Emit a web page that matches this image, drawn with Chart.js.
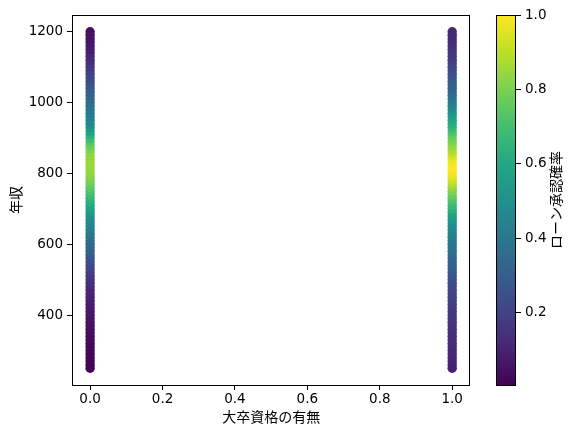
<!DOCTYPE html>
<html>
<head>
<meta charset="utf-8">
<script src="https://cdn.jsdelivr.net/npm/chart.js@4.4.0/dist/chart.umd.min.js"></script>
<style>
  html, body { margin: 0; padding: 0; background: #fff; }
  #wrap { position: relative; width: 572px; height: 436px; }
  #main { position: absolute; left: 0; top: 0; width: 475px; height: 436px; }
  #cbar { position: absolute; left: 490px; top: 0; width: 82px; height: 436px; }
</style>
</head>
<body>
<div id="wrap">
  <div id="main"><canvas id="scatterChart"></canvas></div>
  <div id="cbar"><canvas id="colorbarChart"></canvas></div>
</div>
<script>
// 年収 (y) — same set for both groups
const incomes = [
  250, 260, 270, 280, 290, 300, 310, 320, 330, 340,
  350, 360, 370, 380, 390, 400, 410, 420, 430, 440,
  450, 460, 470, 480, 490, 500, 510, 520, 530, 540,
  550, 560, 570, 580, 590, 600, 610, 620, 630, 640,
  650, 660, 670, 680, 690, 700, 710, 720, 730, 740,
  750, 760, 770, 780, 790, 800, 810, 820, 830, 840,
  850, 860, 870, 880, 890, 900, 910, 920, 930, 940,
  950, 960, 970, 980, 990, 1000, 1010, 1020, 1030, 1040,
  1050, 1060, 1070, 1080, 1090, 1100, 1110, 1120, 1130, 1140,
  1150, 1160, 1170, 1180, 1190, 1200
];

// ローン承認確率 (colour) for 大卒資格 = 0
const probNoDegree = [
  0.005, 0.012, 0.014, 0.016, 0.018, 0.02, 0.023, 0.026, 0.03, 0.034,
  0.038, 0.042, 0.046, 0.05, 0.055, 0.06, 0.066, 0.072, 0.079, 0.086,
  0.094, 0.10, 0.11, 0.12, 0.135, 0.15, 0.165, 0.18, 0.2, 0.22,
  0.24, 0.26, 0.28, 0.3, 0.32, 0.34, 0.36, 0.38, 0.4, 0.42,
  0.44, 0.46, 0.48, 0.5, 0.53, 0.56, 0.59, 0.62, 0.65, 0.68,
  0.71, 0.74, 0.77, 0.79, 0.81, 0.83, 0.84, 0.85, 0.85, 0.845,
  0.84, 0.83, 0.8, 0.77, 0.73, 0.68, 0.63, 0.57, 0.53, 0.49,
  0.46, 0.44, 0.42, 0.41, 0.39, 0.37, 0.35, 0.33, 0.31, 0.29,
  0.27, 0.25, 0.23, 0.21, 0.2, 0.18, 0.16, 0.14, 0.12, 0.11,
  0.09, 0.08, 0.07, 0.06, 0.055, 0.05
];

// ローン承認確率 for 大卒資格 = 1
const probDegree = [
  0.09, 0.095, 0.1, 0.105, 0.11, 0.115, 0.12, 0.125, 0.13, 0.135,
  0.14, 0.145, 0.15, 0.155, 0.16, 0.165, 0.17, 0.175, 0.18, 0.185,
  0.19, 0.2, 0.21, 0.22, 0.23, 0.245, 0.26, 0.275, 0.29, 0.305,
  0.32, 0.335, 0.35, 0.365, 0.38, 0.39, 0.4, 0.42, 0.44, 0.46,
  0.48, 0.5, 0.53, 0.56, 0.59, 0.63, 0.67, 0.7, 0.73, 0.77,
  0.8, 0.84, 0.88, 0.92, 0.95, 0.98, 0.99, 1.0, 0.99, 0.97,
  0.94, 0.9, 0.87, 0.84, 0.81, 0.78, 0.75, 0.71, 0.67, 0.63,
  0.6, 0.57, 0.54, 0.5, 0.46, 0.43, 0.41, 0.38, 0.36, 0.33,
  0.31, 0.3, 0.28, 0.26, 0.24, 0.22, 0.21, 0.2, 0.18, 0.17,
  0.16, 0.15, 0.14, 0.13, 0.125, 0.12
];

const xTicks = [0, 0.2, 0.4, 0.6, 0.8, 1.0];
const yTicks = [400, 600, 800, 1000, 1200];
const cbTicks = [0.2, 0.4, 0.6, 0.8, 1.0];

const xLabel = '大卒資格の有無';
const yLabel = '年収';
const cbLabel = 'ローン承認確率';

// viridis colormap stops
const viridisStops = ['#440154', '#482475', '#414487', '#355f8d', '#2a788e',
  '#21918c', '#22a884', '#44bf70', '#7ad151', '#bddf26', '#fde725'];

const FONT = "'Noto Sans CJK JP', 'Noto Sans', sans-serif";
const TICK_FONT = { family: "'DejaVu Sans', sans-serif", size: 13.5 };
const allProbs = probNoDegree.concat(probDegree);
const vmin = Math.min(...allProbs);
const vmax = Math.max(...allProbs);

function hexToRgb(h) {
  return [parseInt(h.slice(1, 3), 16), parseInt(h.slice(3, 5), 16), parseInt(h.slice(5, 7), 16)];
}

function viridis(t) {
  t = Math.max(0, Math.min(1, t));
  const pos = t * (viridisStops.length - 1);
  const i = Math.min(Math.floor(pos), viridisStops.length - 2);
  const f = pos - i;
  const a = hexToRgb(viridisStops[i]);
  const b = hexToRgb(viridisStops[i + 1]);
  const c = a.map((v, k) => Math.round(v + (b[k] - v) * f));
  return `rgb(${c[0]}, ${c[1]}, ${c[2]})`;
}

const colorFor = p => viridis((p - vmin) / (vmax - vmin));

// frame round the plot area (matplotlib spines)
const framePlugin = {
  id: 'frame',
  afterDraw(chart) {
    const { ctx, chartArea: a } = chart;
    ctx.save();
    ctx.strokeStyle = '#000';
    ctx.lineWidth = 1;
    ctx.strokeRect(Math.round(a.left) + 0.5, Math.round(a.top) + 0.5,
      Math.round(a.right - a.left) - 1, Math.round(a.bottom - a.top));
    ctx.restore();
  }
};

Chart.defaults.font.family = FONT;
Chart.defaults.font.size = 14;
Chart.defaults.color = '#000';

function tickGrid() {
  return { display: true, drawOnChartArea: false, drawTicks: true, tickLength: 5, color: '#000', lineWidth: 1 };
}

new Chart(document.getElementById('scatterChart'), {
  type: 'scatter',
  data: {
    datasets: [
      {
        data: incomes.map(y => ({ x: 0, y })),
        pointBackgroundColor: probNoDegree.map(colorFor),
        pointBorderColor: probNoDegree.map(colorFor),
        pointBorderWidth: 0,
        pointRadius: 4.7
      },
      {
        data: incomes.map(y => ({ x: 1, y })),
        pointBackgroundColor: probDegree.map(colorFor),
        pointBorderColor: probDegree.map(colorFor),
        pointBorderWidth: 0,
        pointRadius: 4.7
      }
    ]
  },
  options: {
    responsive: true,
    maintainAspectRatio: false,
    animation: false,
    layout: { padding: { top: 15, right: 0, left: 0, bottom: 0 } },
    plugins: { legend: { display: false }, tooltip: { enabled: false } },
    scales: {
      x: {
        type: 'linear',
        min: -0.05,
        max: 1.05,
        afterBuildTicks: s => { s.ticks = xTicks.map(v => ({ value: v })); },
        afterFit: s => { s.height = 51; },
        ticks: { padding: 1, maxRotation: 0, font: TICK_FONT, callback: v => Number(v).toFixed(1) },
        grid: tickGrid(),
        border: { display: false },
        title: { display: true, text: xLabel, padding: { top: 11, bottom: 11 } }
      },
      y: {
        type: 'linear',
        min: 202.5,
        max: 1247.5,
        afterBuildTicks: s => { s.ticks = yTicks.map(v => ({ value: v })); },
        afterFit: s => { s.width = 72; },
        ticks: { padding: 4, font: TICK_FONT, callback: v => String(v) },
        grid: tickGrid(),
        border: { display: false },
        title: { display: true, text: yLabel, padding: { top: 7, bottom: 7 } }
      }
    }
  },
  plugins: [framePlugin]
});

// colorbar: gradient drawn inside the chart area of a second chart
const gradientPlugin = {
  id: 'gradientFill',
  beforeDatasetsDraw(chart) {
    const { ctx, chartArea: a } = chart;
    const g = ctx.createLinearGradient(0, a.bottom, 0, a.top);
    viridisStops.forEach((c, i) => g.addColorStop(i / (viridisStops.length - 1), c));
    ctx.save();
    ctx.fillStyle = g;
    ctx.fillRect(a.left, a.top, a.right - a.left, a.bottom - a.top);
    ctx.restore();
  },
  afterDraw(chart) {
    const { ctx, chartArea: a } = chart;
    ctx.save();
    ctx.font = `14px ${FONT}`;
    ctx.fillStyle = '#000';
    ctx.textAlign = 'center';
    ctx.textBaseline = 'middle';
    ctx.translate(66, (a.top + a.bottom) / 2);
    ctx.rotate(-Math.PI / 2);
    ctx.fillText(cbLabel, 0, 0);
    ctx.restore();
  }
};

new Chart(document.getElementById('colorbarChart'), {
  type: 'scatter',
  data: { datasets: [] },
  options: {
    responsive: true,
    maintainAspectRatio: false,
    animation: false,
    layout: { padding: { top: 15, right: 0, left: 6, bottom: 51 } },
    plugins: { legend: { display: false }, tooltip: { enabled: false } },
    scales: {
      x: { type: 'linear', display: false, min: 0, max: 1 },
      y: {
        type: 'linear',
        position: 'right',
        min: vmin,
        max: vmax,
        afterBuildTicks: s => { s.ticks = cbTicks.map(v => ({ value: v })); },
        afterFit: s => { s.width = 56; },
        ticks: { padding: 4, font: TICK_FONT, callback: v => Number(v).toFixed(1) },
        grid: tickGrid(),
        border: { display: false }
      }
    }
  },
  plugins: [gradientPlugin, framePlugin]
});
</script>
</body>
</html>
